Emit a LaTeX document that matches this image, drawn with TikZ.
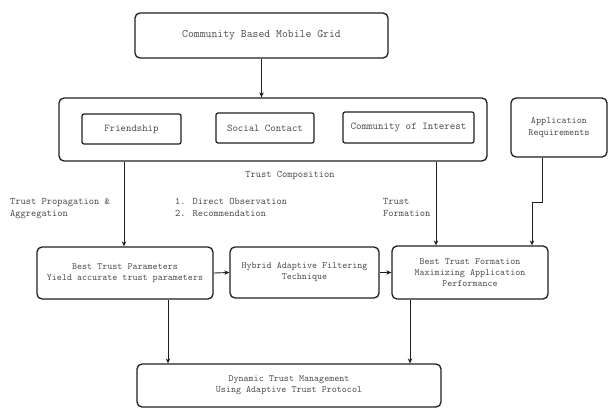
\documentclass[tikz,border=0pt]{standalone}
\usepackage{fontspec}
\usetikzlibrary{arrows.meta}
\definecolor{txt}{RGB}{75,75,75}
\definecolor{ln}{RGB}{30,30,30}
\tikzset{
  box/.style={draw=ln, line width=1.3pt, rounded corners=5pt, inner sep=0pt, align=center, text=txt, font=\ttfamily\fontsize{9.6}{11}\selectfont},
  lbl/.style={inner sep=0pt, align=left, anchor=north west, text=txt, font=\ttfamily\fontsize{10}{11.5}\selectfont},
  arr/.style={draw=ln, line width=0.9pt, -{Stealth[length=5pt,width=4.5pt]}},
}
\begin{document}
\begin{tikzpicture}[x=1pt,y=-1pt]
\useasboundingbox (0,0) rectangle (610,409);
% top
\node[box, minimum width=253pt, minimum height=45pt, font=\ttfamily\fontsize{11.4}{12}\selectfont] (top) at (261.5,35.5) {Community Based Mobile Grid};
% big box
\node[box, minimum width=428pt, minimum height=63pt] (big) at (273,129.5) {};
\node[box, line width=1.2pt, rounded corners=2pt, minimum width=99pt, minimum height=30pt, font=\ttfamily\fontsize{10.3}{11}\selectfont] (friend) at (131.5,129) {Friendship};
\node[box, line width=1.2pt, rounded corners=2pt, minimum width=98pt, minimum height=30pt, font=\ttfamily\fontsize{10.3}{11}\selectfont] (social) at (265,128) {Social Contact};
\node[box, line width=1.2pt, rounded corners=2pt, minimum width=131pt, minimum height=31pt, font=\ttfamily\fontsize{10.5}{11}\selectfont] (coi) at (408.5,127.5) {Community of Interest};
% application requirements
\node[box, minimum width=96pt, minimum height=59pt, font=\ttfamily\fontsize{9.7}{12}\selectfont] (app) at (559,127.5) {Application\\Requirements};
% middle row
\node[box, minimum width=176pt, minimum height=52pt] (b1) at (125,273) {Best Trust Parameters\\Yield accurate trust parameters};
\node[box, minimum width=149pt, minimum height=51pt] (b2) at (304.5,272.5) {Hybrid Adaptive Filtering\\Technique};
\node[box, minimum width=156pt, minimum height=53pt] (b3) at (470,272.5) {Best Trust Formation\\Maximizing Application\\Performance};
% bottom
\node[box, minimum width=304pt, minimum height=43pt] (bot) at (289,385.5) {Dynamic Trust Management\\Using Adaptive Trust Protocol};
% labels
\node[lbl, anchor=center] (tc) at (290,175) {Trust Composition};
\node[lbl] (tpa) at (10,198.5) {Trust Propagation \&\\Aggregation};
\node[lbl] (dor) at (175,198.5) {1. Direct Observation\\2. Recommendation};
\node[lbl] (tf) at (383,198.5) {Trust\\Formation};
% coordinates
\coordinate (c1) at (124,0);
\coordinate (c2) at (436,0);
\coordinate (c3) at (542,0);
\coordinate (j1) at (542,202);
\coordinate (j2) at (532,202);
\coordinate (c5) at (168,0);
\coordinate (c6) at (410,0);
% connectors
\draw[arr] (top.south) -- (top.south |- big.north);
\draw[arr] (big.south -| c1) -- (b1.north -| c1);
\draw[arr] (big.south -| c2) -- (b3.north -| c2);
\draw[arr] (app.south -| c3) -- (j1) -- (j2) -- (b3.north -| j2);
\draw[arr] (b1.east) -- (b2.west);
\draw[arr] (b2.east) -- (b3.west);
\draw[arr] (b1.south -| c5) -- (bot.north -| c5);
\draw[arr] (b3.south -| c6) -- (bot.north -| c6);
\end{tikzpicture}
\end{document}
